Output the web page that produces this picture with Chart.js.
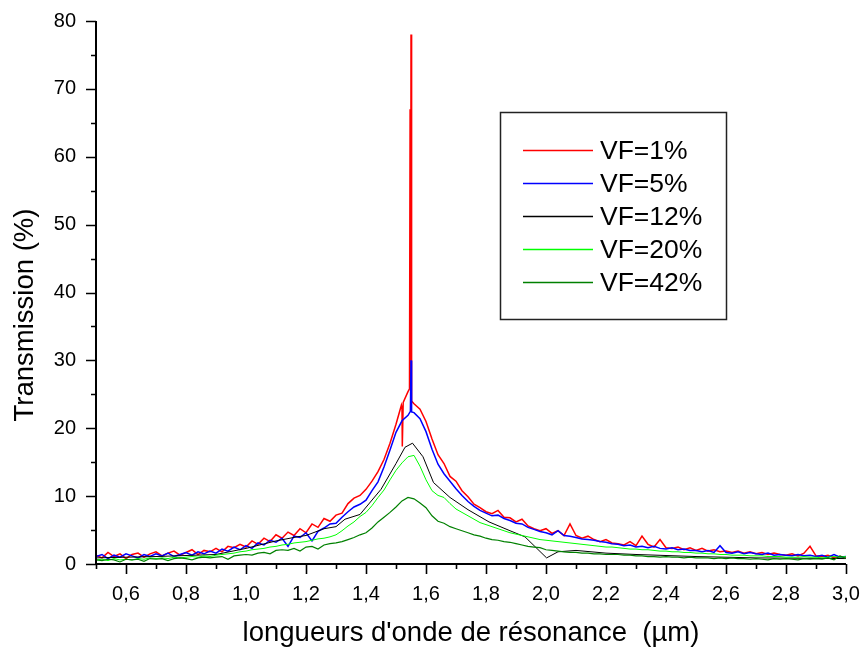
<!DOCTYPE html>
<html>
<head>
<meta charset="utf-8">
<script src="https://cdn.jsdelivr.net/npm/chart.js@4"></script>
<style>
  body { margin: 0; background: #fff; }
</style>
</head>
<body>
<canvas id="transmission" width="861" height="651"></canvas>
<script>
'use strict';

// sampling grid for the measured spectra, 0.50 .. 3.00 µm every 0.02
const wavelength = [];
for (let i = 0; i <= 125; i++) {
    wavelength.push(+(0.5 + i * 0.02).toFixed(2));
}

const labels = ['VF=1%', 'VF=5%', 'VF=12%', 'VF=20%', 'VF=42%'];
const colors = ['#ff0000', '#0000ff', '#000000', '#00ff00', '#008000'];

// transmission (%) on the grid, one row = 0.2 µm
const vf1 = [
    1.3, 0.9, 1.7, 1.1, 1.5, 0.8, 1.4, 1.6, 1.0, 1.5,
    1.8, 1.2, 1.6, 1.9, 1.3, 1.7, 2.1, 1.4, 2.0, 1.8,
    2.3, 1.8, 2.6, 2.4, 2.9, 2.5, 3.4, 2.9, 3.8, 3.3,
    4.3, 3.8, 4.7, 4.2, 5.2, 4.6, 5.9, 5.4, 6.7, 6.3,
    7.2, 7.5, 8.9, 9.7, 10.1, 11.0, 12.2, 13.6, 15.4, 17.8,
    20.6, 23.0, 25.4, 23.6, 22.8, 21.0, 18.4, 16.1, 14.8, 12.9,
    12.2, 10.8, 9.9, 8.8, 8.3, 7.7, 7.4, 7.9, 6.9, 6.8,
    6.2, 6.6, 5.6, 5.2, 4.9, 5.2, 4.5, 4.9, 4.2, 5.9,
    4.2, 3.8, 4.1, 3.6, 3.3, 3.6, 3.1, 3.0, 2.8, 3.3,
    2.7, 4.1, 2.9, 2.5, 3.6, 2.4, 2.3, 2.5, 2.1, 2.4,
    2.0, 2.3, 1.9, 2.1, 1.8, 1.9, 1.7, 1.9, 1.6, 1.8,
    1.5, 1.7, 1.4, 1.6, 1.4, 1.3, 1.5, 1.2, 1.6, 2.6,
    1.2, 1.1, 1.3, 0.9, 1.1, 1.0
];
// resonance spike and dip around 1.55 µm
const vf1PeakX = [1.518, 1.521, 1.524, 1.545, 1.547, 1.549, 1.550, 1.552];
const vf1PeakY = [23.4, 17.3, 23.8, 25.8, 67.0, 26.0, 78.0, 24.0];

const vf5 = [
    1.1, 1.4, 0.8, 1.3, 1.0, 1.5, 1.2, 0.9, 1.4, 1.1,
    1.5, 1.2, 1.6, 1.1, 1.4, 1.7, 1.3, 1.8, 1.5, 1.9,
    1.6, 2.2, 1.9, 2.5, 2.1, 2.7, 2.3, 3.1, 2.8, 3.5,
    3.2, 3.8, 2.6, 4.1, 3.9, 4.6, 3.4, 4.8, 5.3, 5.9,
    6.0, 6.9, 7.7, 8.4, 8.8, 9.4, 10.8, 12.1, 14.3, 16.8,
    19.4, 21.1, 21.9, 22.3, 21.4, 19.5, 16.9, 14.7, 13.3, 12.2,
    11.1, 10.1, 9.2, 8.5, 7.9, 7.5, 7.1, 7.2, 6.7, 6.4,
    6.0, 5.9, 5.4, 5.1, 4.8, 4.6, 4.3, 4.9, 4.2, 4.1,
    3.9, 3.7, 3.6, 3.5, 3.3, 3.2, 3.0, 2.9, 2.7, 2.8,
    2.5, 2.6, 2.4, 2.6, 2.3, 2.2, 2.4, 2.1, 2.2, 2.0,
    2.0, 1.8, 2.0, 1.7, 2.7, 1.7, 1.6, 1.8, 1.5, 1.7,
    1.5, 1.4, 1.6, 1.3, 1.4, 1.3, 1.2, 1.4, 1.2, 1.3,
    1.1, 1.3, 1.0, 1.4, 1.0, 1.1
];
const vf5PeakX = [1.548, 1.550, 1.552];
const vf5PeakY = [22.5, 30.0, 22.4];

// VF=12% was recorded with a coarse step
const vf12X = [0.5, 0.7, 0.9, 1.0, 1.1, 1.17, 1.2, 1.26, 1.3, 1.33, 1.38, 1.45, 1.5,
    1.53, 1.555, 1.59, 1.625, 1.68, 1.74, 1.81, 1.88, 1.93, 2.002, 2.04, 2.1, 2.2,
    2.3, 2.5, 2.7, 3.0];
const vf12 = [0.9, 1.1, 1.4, 2.3, 3.4, 4.0, 4.2, 5.2, 5.5, 6.6, 7.3, 11.0, 14.8,
    17.2, 17.8, 15.8, 12.0, 9.8, 8.0, 6.2, 4.9, 4.0, 0.9, 1.8, 2.0, 1.6,
    1.4, 1.1, 0.9, 0.8];

const vf20 = [
    0.6, 0.7, 0.5, 0.8, 0.6, 0.7, 0.6, 0.8, 0.7, 0.9,
    0.8, 0.9, 0.8, 1.0, 0.9, 1.0, 1.1, 1.0, 1.2, 1.1,
    1.3, 1.4, 1.5, 1.6, 1.8, 1.9, 2.1, 2.2, 2.3, 2.5,
    2.6, 2.8, 2.9, 3.1, 3.2, 3.3, 3.5, 3.7, 3.8, 4.0,
    4.3, 4.9, 5.6, 6.2, 7.0, 7.6, 8.6, 9.8, 10.9, 12.4,
    13.8, 14.9, 15.8, 16.0, 14.4, 12.4, 10.8, 10.1, 9.8, 8.9,
    8.1, 7.6, 7.1, 6.6, 6.1, 5.8, 5.5, 5.2, 4.9, 4.6,
    4.4, 4.2, 4.0, 3.8, 3.6, 3.5, 3.4, 3.3, 3.2, 3.1,
    3.0, 2.9, 2.8, 2.7, 2.6, 2.5, 2.5, 2.4, 2.3, 2.2,
    2.2, 2.1, 2.1, 2.0, 1.9, 1.9, 1.8, 1.8, 1.7, 1.7,
    1.6, 1.6, 1.5, 1.5, 1.4, 1.4, 1.3, 1.3, 1.3, 1.2,
    1.2, 1.2, 1.1, 1.1, 1.1, 1.0, 1.0, 1.0, 1.1, 1.0,
    1.0, 0.9, 1.0, 1.1, 1.0, 1.1
];

const vf42 = [
    0.6, 0.5, 0.7, 0.6, 0.3, 0.7, 0.6, 0.7, 0.4, 0.8,
    0.7, 0.8, 0.5, 0.8, 0.9, 0.8, 0.6, 0.9, 1.0, 0.9,
    1.0, 1.1, 0.7, 1.2, 1.3, 1.4, 1.3, 1.6, 1.7, 1.5,
    2.0, 2.1, 2.0, 2.3, 1.9, 2.5, 2.6, 2.2, 2.8, 3.0,
    3.1, 3.3, 3.6, 3.9, 4.3, 4.6, 5.3, 6.2, 6.9, 7.6,
    8.4, 9.3, 9.8, 9.6, 9.0, 8.3, 7.1, 6.3, 6.0, 5.5,
    5.2, 4.9, 4.6, 4.3, 4.1, 3.8, 3.6, 3.5, 3.3, 3.2,
    3.0, 2.8, 2.6, 2.5, 2.4, 2.1, 2.0, 1.9, 1.8, 1.7,
    1.7, 1.6, 1.6, 1.5, 1.5, 1.4, 1.4, 1.4, 1.3, 1.3,
    1.2, 1.2, 1.1, 1.1, 1.0, 1.1, 1.0, 1.0, 0.9, 1.0,
    0.9, 0.9, 0.9, 0.8, 0.9, 0.8, 0.9, 0.8, 0.8, 0.7,
    0.8, 0.7, 0.6, 0.8, 0.7, 0.8, 0.7, 0.6, 0.8, 0.7,
    0.8, 0.7, 0.9, 0.6, 1.2, 0.8
];

function toPoints(xs, ys, extraX, extraY) {
    let pts = ys.map(function (y, i) {
        return {x: xs[i], y: y};
    });
    if (extraX) {
        extraX.forEach(function (x, i) {
            pts.push({x: x, y: extraY[i]});
        });
    }
    return pts.sort(function (a, b) { return a.x - b.x; });
}

const FONT = '"Liberation Sans", Arial, sans-serif';

// axis lines, tick marks, axis titles and the boxed legend
const frame = {
    id: 'frame',
    afterDatasetsDraw(chart) {
        const ctx = chart.ctx;
        const xs = chart.scales.x;
        const ys = chart.scales.y;
        const area = chart.chartArea;

        ctx.save();
        ctx.strokeStyle = '#000';
        ctx.lineWidth = 2;
        ctx.beginPath();
        ctx.moveTo(area.left, area.top);
        ctx.lineTo(area.left, area.bottom);
        ctx.lineTo(area.right, area.bottom);
        ctx.stroke();

        ctx.lineWidth = 1.6;
        ctx.beginPath();
        for (let v = 0; v <= 80; v += 5) {
            const py = Math.round(ys.getPixelForValue(v)) + 0.5;
            const len = v % 10 === 0 ? 10 : 5;
            ctx.moveTo(area.left, py);
            ctx.lineTo(area.left - len, py);
        }
        for (let k = 5; k <= 30; k++) {
            const px = Math.round(xs.getPixelForValue(k / 10)) + 0.5;
            const len = k % 2 === 0 ? 10 : 5;
            ctx.moveTo(px, area.bottom);
            ctx.lineTo(px, area.bottom + len);
        }
        ctx.stroke();

        ctx.fillStyle = '#000';
        ctx.font = '27.5px ' + FONT;
        ctx.textAlign = 'center';
        ctx.textBaseline = 'middle';
        ctx.fillText('longueurs d\'onde de r\u00e9sonance  (\u00b5m)', (area.left + area.right) / 2, 633);
        ctx.translate(25, 315);
        ctx.rotate(-Math.PI / 2);
        ctx.fillText('Transmission (%)', 0, 0);
        ctx.restore();

        // legend
        ctx.save();
        ctx.lineWidth = 1.5;
        ctx.fillStyle = '#fff';
        ctx.fillRect(500, 112, 226, 207);
        ctx.strokeStyle = '#222';
        ctx.strokeRect(500.5, 112.5, 226, 207);
        ctx.font = '26.5px ' + FONT;
        ctx.textAlign = 'left';
        ctx.textBaseline = 'middle';
        labels.forEach(function (label, idx) {
            const rowY = 150.5 + idx * 33;
            ctx.strokeStyle = colors[idx];
            ctx.lineWidth = 1.4;
            ctx.beginPath();
            ctx.moveTo(523, rowY);
            ctx.lineTo(593, rowY);
            ctx.stroke();
            ctx.fillStyle = '#000';
            ctx.fillText(label, 600, rowY + 1);
        });
        ctx.restore();
    }
};

const series = [
    toPoints(wavelength, vf1, vf1PeakX, vf1PeakY),
    toPoints(wavelength, vf5, vf5PeakX, vf5PeakY),
    toPoints(vf12X, vf12),
    toPoints(wavelength, vf20),
    toPoints(wavelength, vf42)
];
const widths = [1.5, 1.5, 1, 1, 1.2];

let datasets = [];
series.forEach(function (pts, idx) {
    datasets.push({
        label: labels[idx],
        data: pts,
        borderColor: colors[idx],
        backgroundColor: colors[idx],
        borderWidth: widths[idx],
        pointRadius: 0,
        tension: 0,
        fill: false,
        order: series.length - idx
    });
});

// fixed axis boxes so the plot area sits at 96..846 x 21..564
function fixBox(scale, size) {
    if (scale.isHorizontal()) {
        scale.height = size;
    } else {
        scale.width = size;
    }
    scale.paddingTop = 0;
    scale.paddingBottom = 0;
    scale.paddingLeft = 0;
    scale.paddingRight = 0;
}

Chart.defaults.font.family = FONT;
Chart.defaults.color = '#000';

new Chart(document.getElementById('transmission'), {
    type: 'line',
    data: {
        datasets: datasets
    },
    options: {
        responsive: false,
        animation: false,
        events: [],
        layout: {
            padding: {top: 21, right: 15, left: 0, bottom: 0}
        },
        scales: {
            x: {
                type: 'linear',
                min: 0.5,
                max: 3.0,
                grid: {display: false, drawTicks: false},
                border: {display: false},
                ticks: {
                    stepSize: 0.2,
                    includeBounds: false,
                    autoSkip: false,
                    maxRotation: 0,
                    padding: 18,
                    font: {size: 20},
                    callback: function (v) {
                        return v.toFixed(1).replace('.', ',');
                    }
                },
                afterFit: function (scale) {
                    fixBox(scale, 87);
                }
            },
            y: {
                min: 0,
                max: 80,
                grid: {display: false, drawTicks: false},
                border: {display: false},
                ticks: {
                    stepSize: 10,
                    padding: 20,
                    font: {size: 20}
                },
                afterFit: function (scale) {
                    fixBox(scale, 96);
                }
            }
        },
        plugins: {
            legend: {display: false},
            tooltip: {enabled: false}
        }
    },
    plugins: [frame]
});
</script>
</body>
</html>
